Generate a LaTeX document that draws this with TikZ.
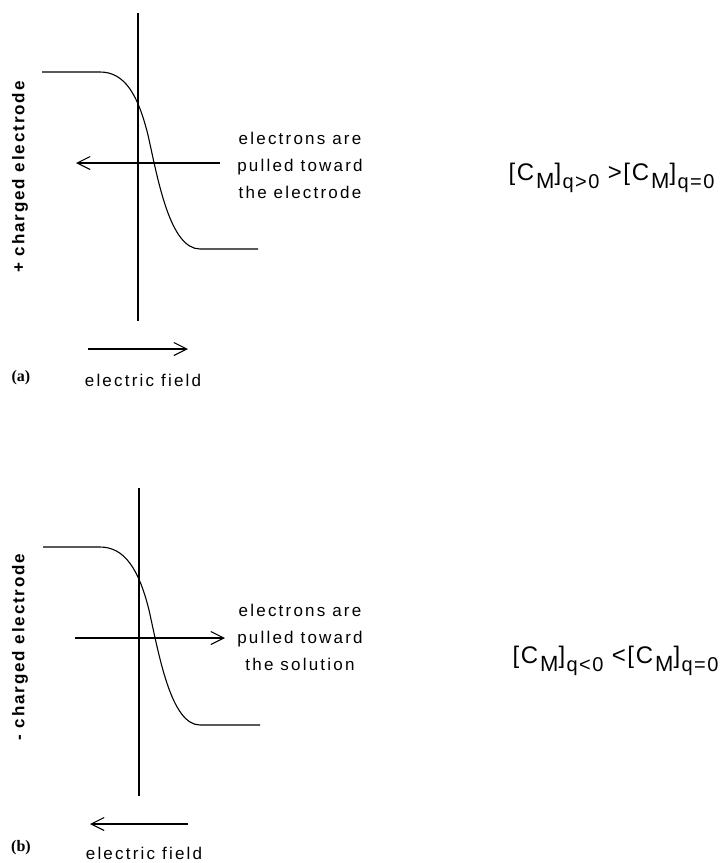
\documentclass[tikz,border=0pt]{standalone}
\usepackage{fontspec}
\usetikzlibrary{arrows.meta}
\newfontfamily\figfont[LetterSpace=13]{Liberation Sans}
\newfontfamily\sidefont[LetterSpace=11]{Liberation Sans}
\newfontfamily\eqfont[LetterSpace=7]{Liberation Sans}
\newfontfamily\capfont{Liberation Serif}
\newcommand{\lowered}[1]{\kern2pt\raisebox{-8pt}{\fontsize{22}{22}\selectfont #1}}
\newcommand{\subq}[1]{\kern1.5pt\raisebox{-8pt}{\fontsize{20}{20}\selectfont #1}}

\begin{document}
\begin{tikzpicture}[x=1pt,y=-1pt,line width=1.1pt,>={Straight Barb[length=13pt,width=13pt]},
    txt/.style={font=\figfont\fontsize{17}{27}\selectfont,inner sep=0pt,align=center},
    side/.style={font=\sidefont\bfseries\fontsize{17}{17}\selectfont,rotate=90,inner sep=0pt},
    tag/.style={font=\capfont\bfseries\fontsize{16}{16}\selectfont,inner sep=0pt},
    conc/.style={font=\eqfont\fontsize{24}{24}\selectfont,inner sep=0pt,anchor=base west}]
    \useasboundingbox (0,0) rectangle (728,863);
    % (a) positively charged electrode
    \draw (138,13)--(138,321);
    \draw (42,72)--(100,72)..controls(125,72)and(138,95)..(148,135)
        ..controls(158,180)and(170,249)..(200,249)--(258,249);
    \draw[->] (220,163)--(76,163);
    \draw[->] (88,349)--(188,349);
    \node[txt] (pulla) at (300,165) {electrons are\\pulled toward\\the electrode};
    \node[side] (elca) at (20,177) {+ charged electrode};
    \node[tag] (taga) at (21,378) {(a)};
    \node[txt] (fielda) at (143,380) {electric field};
    \node[conc] (conca) at (508,180) {[C\lowered{M}]\subq{q>0} >[C\lowered{M}]\subq{q=0}};
    % (b) negatively charged electrode
    \begin{scope}[yshift=-475pt]
    \draw (139,13)--(139,321);
    \draw (43,72)--(100,72)..controls(125,72)and(139,95)..(149,135)
        ..controls(159,180)and(171,250)..(200,250)--(260,250);
    \draw[->] (75,163)--(225,163);
    \draw[->] (188,349)--(90,349);
    \node[txt] (pullb) at (300,162) {electrons are\\pulled toward\\the solution};
    \node[side] (elcb) at (20,172) {- charged electrode};
    \node[tag] (tagb) at (21,373) {(b)};
    \node[txt] (fieldb) at (144,378) {electric field};
    \node[conc] (concb) at (512,188) {[C\lowered{M}]\subq{q<0} <[C\lowered{M}]\subq{q=0}};
    \end{scope}
\end{tikzpicture}
\end{document}
